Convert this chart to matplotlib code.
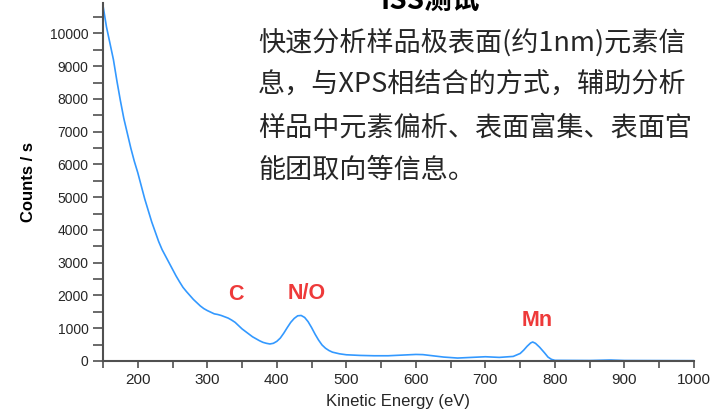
import numpy as np
import matplotlib.pyplot as plt
from matplotlib.ticker import MultipleLocator

# spectrum
energy = [150, 155, 160, 165, 170, 175, 180, 185, 190, 195, 200, 205, 210, 215, 220,
          225, 230, 235, 240, 245, 250, 255, 260, 265, 270, 275, 280, 285, 290, 295,
          300, 305, 310, 315, 320, 325, 330, 335, 340, 345, 350, 355, 360, 365, 370,
          375, 380, 385, 390, 395, 400, 405, 410, 415, 420, 425, 430, 435, 440, 445,
          450, 455, 460, 465, 470, 475, 480, 490, 500, 520, 540, 560, 580, 600, 610,
          620, 640, 660, 680, 700, 720, 740, 750, 755, 760, 765, 768, 772, 778, 785,
          790, 795, 800, 850, 880, 900, 1000]
counts = [10850, 10200, 9700, 9200, 8550, 7950, 7400, 6950, 6500, 6100, 5750, 5350, 4950, 4600, 4250,
          3950, 3650, 3400, 3200, 3000, 2800, 2600, 2420, 2250, 2120, 2000, 1880, 1780, 1680, 1600,
          1540, 1490, 1440, 1420, 1390, 1350, 1310, 1250, 1180, 1080, 980, 900, 820, 740, 680,
          620, 570, 540, 520, 540, 600, 700, 850, 1020, 1180, 1300, 1380, 1390, 1330, 1200,
          1020, 820, 640, 490, 390, 320, 270, 220, 190, 170, 160, 160, 180, 200, 195,
          170, 120, 90, 110, 130, 110, 140, 230, 330, 450, 550, 580, 540, 420, 250,
          120, 50, 20, 15, 30, 15, 10]

peak_labels = ['C', 'N/O', 'Mn']
peak_x = [341, 443, 775]
peak_y = [2020, 2050, 1250]

desc_lines = ['快速分析样品极表面(约1nm)元素信',
              '息，与XPS相结合的方式，辅助分析',
              '样品中元素偏析、表面富集、表面官',
              '能团取向等信息。']

plt.rcParams['font.family'] = ['Liberation Sans', 'DejaVu Sans']
cjk = ['Noto Sans CJK SC', 'DejaVu Sans']

fig = plt.figure(figsize=(7.28, 4.16), dpi=100)
ax = fig.add_axes([103/728, 55/416, 591/728, 358/416])

ax.plot(energy, counts, color='#3399ff', lw=1.2)
ax.set_xlim(150, 1000)
ax.set_ylim(0, 10930)

ax.xaxis.set_major_locator(MultipleLocator(100))
ax.xaxis.set_minor_locator(MultipleLocator(50))
ax.yaxis.set_major_locator(MultipleLocator(1000))
ax.yaxis.set_minor_locator(MultipleLocator(500))
ax.set_xticks(range(200, 1001, 100))

for s in ['top', 'right']:
    ax.spines[s].set_visible(False)
for s in ['left', 'bottom']:
    ax.spines[s].set_color('#505050')
    ax.spines[s].set_linewidth(1.5)
ax.tick_params(which='both', direction='out', color='#505050', width=1.2)
ax.tick_params(axis='y', which='both', length=7, labelsize=10, labelcolor='#262626')
ax.tick_params(axis='x', which='both', length=5, labelsize=11, labelcolor='#262626')

ax.set_xlabel('Kinetic Energy (eV)', fontsize=12, color='#262626', labelpad=5)
ax.set_ylabel('Counts / s', fontsize=12, fontweight='bold', color='black', labelpad=10)

for lab, x, y in zip(peak_labels, peak_x, peak_y):
    ax.text(x, y, lab, color='#ee3a3a', fontsize=15.5, fontweight='bold',
            ha='center', va='center')

# title sits mostly above the visible area
fig.text(430/728, 1 - 10/416, 'ISS测试', family=cjk, fontsize=20, fontweight='bold',
         ha='center', va='baseline')

for i, line in enumerate(desc_lines):
    fig.text(258/728, 1 - (43 + 42.5*i)/416, line, family=cjk, fontsize=19.5,
             color='#262626', ha='left', va='center')

fig.savefig('out.png', dpi=100)
